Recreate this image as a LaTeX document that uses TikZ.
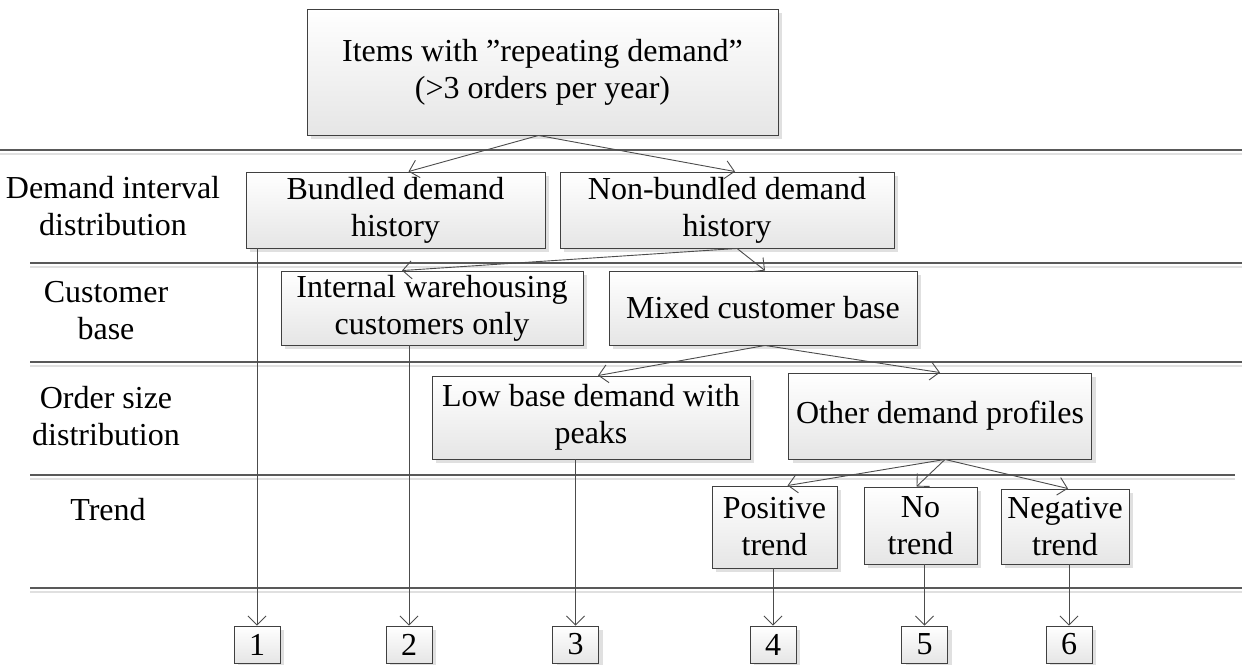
\documentclass[tikz,border=0pt]{standalone}
\usepackage{fontspec}
\setmainfont{Liberation Serif}
\usetikzlibrary{arrows.meta,shadows,calc}
\begin{document}
\begin{tikzpicture}[x=1pt,y=-1pt,
  font=\fontsize{32}{37}\selectfont,
  box/.style={draw=black!75, line width=0.9pt, top color=white, bottom color=black!10,
    align=center, inner sep=0pt,
    drop shadow={shadow xshift=4pt, shadow yshift=-4pt, fill=black!12, opacity=1}},
  arr/.style={draw=black!70, line width=0.9pt, -{Straight Barb[length=9pt,width=18pt,line width=0.9pt]}},
  rowline/.style={draw=black!65, line width=1.2pt},
  rowshadow/.style={draw=black!12, line width=1.2pt},
  lab/.style={align=center, inner sep=0pt}
]
\useasboundingbox (0,0) rectangle (1242,664);
% row lines
\foreach \y/\xa/\xb in {150/0/1242, 263/30/1242, 362/30/1242, 475/30/1235, 588/30/1242}{
  \draw[rowshadow] (\xa,\y+4) -- (\xb,\y+4);
  \draw[rowline] (\xa,\y) -- (\xb,\y);
}
% left labels
\node[lab] (l1) at (113,206) {Demand interval\\distribution};
\node[lab] (l2) at (106,311) {Customer\\base};
\node[lab] (l3) at (106,416) {Order size\\distribution};
\node[lab, anchor=base] (l4) at (108,520) {Trend};
% boxes
\node[box, minimum width=471pt, minimum height=126pt] (top) at (542.5,72) {Items with ”repeating demand”\\(>3 orders per year)};
\node[box, minimum width=299pt, minimum height=76pt] (bund) at (395.5,210) {Bundled demand\\history};
\node[box, minimum width=334pt, minimum height=76pt] (nonb) at (727,210) {Non-bundled demand\\history};
\node[box, minimum width=302pt, minimum height=74pt] (intw) at (432,308) {Internal warehousing\\customers only};
\node[box, minimum width=308pt, minimum height=74pt] (mixd) at (763,308) {Mixed customer base};
\node[box, minimum width=318pt, minimum height=83pt] (lowb) at (591,417.5) {Low base demand with\\peaks};
\node[box, minimum width=303pt, minimum height=86pt] (othr) at (940,416) {Other demand profiles};
\node[box, minimum width=125pt, minimum height=82pt] (posi) at (774.5,527) {Positive\\trend};
\node[box, minimum width=113pt, minimum height=77pt] (notr) at (920.5,525.5) {No\\trend};
\node[box, minimum width=128pt, minimum height=75pt] (nega) at (1065,526.5) {Negative\\trend};
% number boxes
\foreach \n/\x in {1/257, 2/409, 3/575.5, 4/773, 5/924.5, 6/1069}{
  \node[box, minimum width=46pt, minimum height=37pt] (n\n) at (\x,644.5) {\n};
}
% arrows
\draw[arr] ([xshift=-4pt]top.south) -- ([xshift=13pt]bund.north);
\draw[arr] ([xshift=-4pt]top.south) -- ([xshift=8pt]nonb.north);
\draw[arr] ([xshift=10pt]nonb.south) -- ([xshift=-30pt]intw.north);
\draw[arr] ([xshift=10pt]nonb.south) -- ([xshift=2pt]mixd.north);
\draw[arr] ([xshift=2pt]mixd.south) -- ([xshift=7pt]lowb.north);
\draw[arr] ([xshift=2pt]mixd.south) -- (othr.north);
\draw[arr] ([xshift=5pt]othr.south) -- ([xshift=13pt]posi.north);
\draw[arr] ([xshift=5pt]othr.south) -- ([xshift=-4pt]notr.north);
\draw[arr] ([xshift=5pt]othr.south) -- ([xshift=3pt]nega.north);
% vertical arrows to outcomes
\draw[arr] (n1 |- bund.south) -- (n1.north);
\draw[arr] (n2 |- intw.south) -- (n2.north);
\draw[arr] (n3 |- lowb.south) -- (n3.north);
\draw[arr] (n4 |- posi.south) -- (n4.north);
\draw[arr] (n5 |- notr.south) -- (n5.north);
\draw[arr] (n6 |- nega.south) -- (n6.north);
\end{tikzpicture}
\end{document}
